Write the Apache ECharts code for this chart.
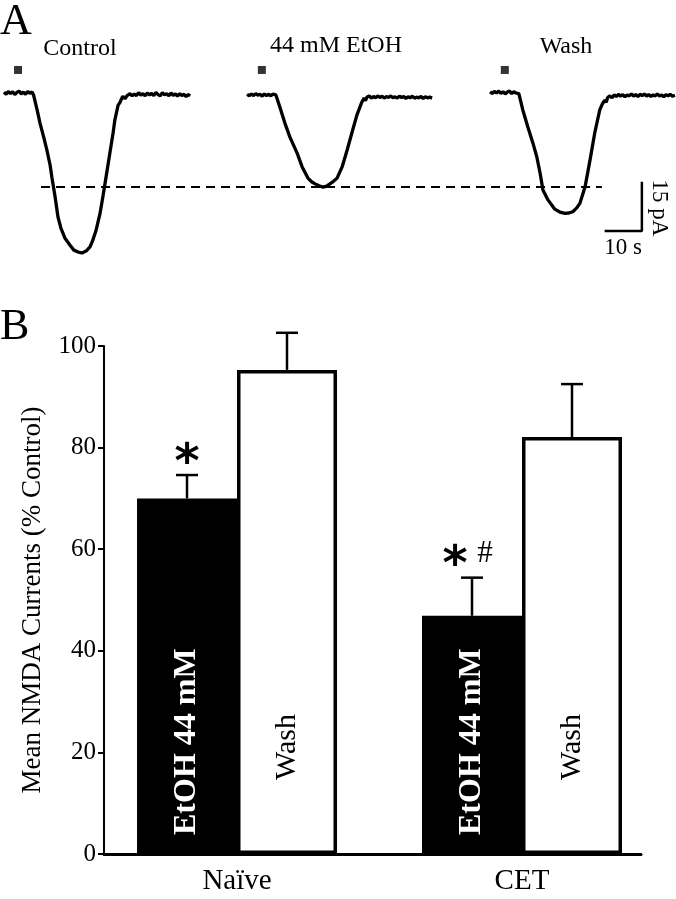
<!DOCTYPE html>
<html>
<head>
<meta charset="utf-8">
<script src="https://cdn.jsdelivr.net/npm/echarts@6/dist/echarts.min.js"></script>
<style>html,body{margin:0;padding:0;background:#fff;}#c{width:676px;height:899px;}</style>
</head>
<body>
<div id="c"></div>
<script>
// ---------- Panel A: current traces (time in s, current in pA) ----------
const traceNames = ['Control', '44 mM EtOH', 'Wash'];
const controlTrace = [[0,0.3],[0.6,-0.4],[1.2,0.5],[1.8,-0.2],[2.4,0.4],[3.0,-0.5],[3.6,0.2],[4.2,0.6],[4.8,-0.3],[5.4,0.3],[6.0,-0.4],[6.6,0.5],[7.2,-0.1],[7.8,0.3],[8.2,-0.6],
[9.2,-5.3],[10.0,-9.4],[11.1,-14.1],[11.9,-17.8],[12.8,-22.5],[13.3,-26.3],[14.2,-32.5],[15.0,-38.8],[15.8,-42.2],[16.9,-45.3],[18.3,-47.5],[19.4,-49.1],[20.6,-49.7],[21.7,-50.0],[22.8,-49.4],[23.9,-48.1],[24.7,-45.9],[25.6,-42.8],[26.7,-37.5],[27.5,-32.2],[28.3,-26.6],[29.4,-18.8],[30.3,-12.5],[30.8,-8.4],[31.7,-3.8],[32.2,-3.0],[32.5,-2.2],[33.0,-1.0],[33.6,-1.8],[34.2,-0.8],[35.0,-0.2],[35.6,-0.9],[36.2,-0.3],[36.8,-0.8],[37.4,0.1],[38.0,-0.7],[38.6,-0.2],[39.2,-0.9],[39.8,0.0],[40.4,-0.6],[41.0,-0.1],[41.6,-0.8],[42.2,0.2],[42.8,-0.5],[43.4,-0.9],[44.0,0.1],[44.6,-0.6],[45.2,-0.2],[45.8,-0.9],[46.4,0.0],[47.0,-0.7],[47.6,-0.3],[48.2,-1.0],[48.8,-0.2],[49.4,-0.8],[50.0,-0.4],[50.6,-1.1],[51.2,-0.5],[51.7,-0.9]];
const etohTrace = [[0.3,-0.4],[0.9,-0.9],[1.5,-0.3],[2.1,-0.8],[2.7,-0.2],[3.3,-0.7],[3.9,-0.4],[4.5,-1.0],[5.1,-0.3],[5.7,-0.8],[6.3,-0.4],[6.9,-0.9],[7.5,-0.3],[8.0,-0.7],[8.3,-0.6],
[9.4,-4.4],[10.8,-9.4],[12.2,-13.8],[14.2,-18.8],[15.6,-23.1],[17.2,-26.6],[18.3,-27.8],[19.2,-28.4],[20.3,-29.0],[21.4,-29.4],[22.4,-29.1],[23.3,-28.4],[24.3,-27.6],[25.3,-26.6],[26.7,-23.1],[28.1,-17.8],[29.4,-12.5],[30.8,-6.9],[32.2,-2.8],[32.8,-1.6],[33.2,-2.4],[33.6,-1.3],[34.2,-0.9],[34.8,-1.6],[35.4,-1.1],[36.0,-1.5],[36.6,-0.9],[37.2,-1.4],[37.8,-1.0],[38.4,-1.6],[39.0,-1.1],[39.6,-1.4],[40.2,-0.9],[40.8,-1.5],[41.4,-1.2],[42.0,-1.6],[42.6,-1.0],[43.2,-1.4],[43.8,-1.1],[44.4,-1.7],[45.0,-1.2],[45.6,-1.5],[46.2,-1.0],[46.8,-1.6],[47.4,-1.3],[48.0,-1.5],[48.6,-1.1],[49.2,-1.7],[49.8,-1.2],[50.4,-1.5],[51.0,-1.3],[51.7,-1.6]];
const washTrace = [[0.3,0.4],[0.9,-0.2],[1.5,0.5],[2.1,0.0],[2.7,0.6],[3.3,-0.1],[3.9,0.4],[4.5,-0.3],[5.1,0.3],[5.7,0.6],[6.3,-0.2],[6.9,0.4],[7.5,0.0],[8.0,0.3],[8.3,-0.2],
[9.4,-5.3],[10.8,-10.6],[12.2,-15.6],[13.3,-20.0],[14.2,-25.0],[15.0,-30.3],[16.4,-33.4],[18.3,-36.3],[19.7,-37.2],[21.1,-37.6],[22.2,-37.5],[23.3,-37.1],[24.4,-35.9],[25.3,-34.4],[26.7,-29.4],[28.1,-20.9],[29.4,-12.5],[30.8,-5.3],[31.5,-3.5],[32.2,-2.2],[32.6,-2.9],[33.0,-1.4],[33.6,-0.9],[34.2,-1.5],[34.8,-0.6],[35.4,-1.1],[36.0,-0.4],[36.6,-1.0],[37.2,-0.5],[37.8,-1.2],[38.4,-0.6],[39.0,-0.9],[39.6,-0.3],[40.2,-1.0],[40.8,-0.5],[41.4,-1.1],[42.0,-0.4],[42.6,-0.8],[43.2,-0.3],[43.8,-1.0],[44.4,-0.5],[45.0,-1.1],[45.6,-0.6],[46.2,-0.9],[46.8,-0.3],[47.4,-1.0],[48.0,-0.6],[48.6,-1.2],[49.2,-0.5],[49.8,-0.9],[50.4,-0.4],[51.0,-1.0],[51.7,-0.7]];
const stimTimes = [3.9, 4.4, 4.4];   // s, NMDA application marker
const scaleBarSec = 10;
const scaleBarPA = 15;

// ---------- Panel B: mean NMDA currents (% control) ----------
const groups = ['Naïve', 'CET'];
const conditions = ['EtOH 44 mM', 'Wash'];
const etohMean = [70.0, 46.9];
const etohSem = [4.6, 7.5];
const washMean = [95.3, 82.1];
const washSem = [7.3, 10.4];
const etohSig = ['*', '*#'];
const washSig = ['', ''];
const yTicks = [0, 20, 40, 60, 80, 100];

const serif = "'Liberation Serif','Times New Roman',serif";
const traces = [controlTrace, etohTrace, washTrace];
const etohPeak = Math.min(...etohTrace.map(p => p[1]));

const chart = echarts.init(document.getElementById('c'), null, {renderer: 'canvas'});

const BAR_W = 100;
function errRender(side) {
  return function (params, api) {
    const c = api.value(0), m = api.value(1), e = api.value(2);
    const base = api.coord([c, m]);
    const top = api.coord([c, m + e]);
    const cx = base[0] + side * BAR_W / 2;
    const sig = (side < 0 ? etohSig : washSig)[params.dataIndex] || '';
    const children = [
      {type: 'line', shape: {x1: cx, y1: base[1], x2: cx, y2: top[1]}, style: {stroke: '#000', lineWidth: 2.5}},
      {type: 'line', shape: {x1: cx - 11, y1: top[1], x2: cx + 11, y2: top[1]}, style: {stroke: '#000', lineWidth: 2.5}}
    ];
    const hasHash = sig.indexOf('#') >= 0;
    if (sig.indexOf('*') >= 0) {
      children.push({type: 'text', x: cx + (hasHash ? -17 : 0), y: top[1] - 11,
        style: {text: '*', font: 'bold 48px "DejaVu Sans"', fill: '#000', align: 'center', verticalAlign: 'middle'}});
    }
    if (hasHash) {
      children.push({type: 'text', x: cx + 13, y: top[1] - 24,
        style: {text: '#', font: '31px ' + serif, fill: '#000', align: 'center', verticalAlign: 'middle'}});
    }
    return {type: 'group', children};
  };
}

const traceGridLeft = [4, 246, 489];
const grids = traceGridLeft.map(l => ({left: l, top: 61, width: 187.2, height: 224}));
grids.push({left: 0, top: 61, width: 676, height: 224});
grids.push({left: 94.5, top: 346, width: 570, height: 508});
grids.push({left: 104, top: 346, width: 537, height: 508});

const xAxes = [0, 1, 2].map(i => ({type: 'value', gridIndex: i, min: 0, max: 52, show: false}));
xAxes.push({type: 'value', gridIndex: 3, min: 0, max: 676 / 3.6, show: false});
xAxes.push({type: 'category', gridIndex: 4, data: groups, axisLine: {show: false}, axisTick: {show: false},
  axisLabel: {fontFamily: serif, fontSize: 29, color: '#000', margin: 13}});
xAxes.push({type: 'value', gridIndex: 5, min: 0, max: 1, axisLine: {show: true, onZero: false, lineStyle: {color: '#000', width: 3}},
  axisTick: {show: false}, axisLabel: {show: false}, splitLine: {show: false}});

const yAxes = [0, 1, 2, 3].map(i => ({type: 'value', gridIndex: i, min: -60, max: 10, show: false}));
yAxes.push({type: 'value', gridIndex: 4, min: 0, max: 100, show: false});
yAxes.push({type: 'value', gridIndex: 5, min: yTicks[0], max: yTicks[yTicks.length - 1], interval: 20,
  name: 'Mean NMDA Currents (% Control)', nameLocation: 'middle', nameGap: 58,
  nameTextStyle: {fontFamily: serif, fontSize: 27, color: '#000'},
  axisLine: {show: true, onZero: false, lineStyle: {color: '#000', width: 2}},
  axisTick: {show: true, length: 6, lineStyle: {color: '#000', width: 2}},
  axisLabel: {fontFamily: serif, fontSize: 25, color: '#000', margin: 8},
  splitLine: {show: false}});

const series = [];
traces.forEach((tr, i) => {
  series.push({type: 'line', name: traceNames[i], xAxisIndex: i, yAxisIndex: i, data: tr, showSymbol: false,
    symbol: 'none', lineStyle: {color: '#000', width: 3.3}, silent: true, z: 3});
  series.push({type: 'scatter', xAxisIndex: i, yAxisIndex: i, data: [[stimTimes[i], 7.2]], symbol: 'rect',
    symbolSize: 8, itemStyle: {color: '#000'}, silent: true});
});
// dashed reference line at EtOH peak
series.push({type: 'line', xAxisIndex: 3, yAxisIndex: 3, data: [[11.4, etohPeak], [167.2, etohPeak]], showSymbol: false,
  symbol: 'none', lineStyle: {color: '#000', width: 2, type: [9, 6]}, silent: true, z: 2});
// scale bar
const corner = [178.3, -43.1];
series.push({type: 'line', xAxisIndex: 3, yAxisIndex: 3,
  data: [[corner[0] - scaleBarSec, corner[1]], corner, [corner[0], corner[1] + scaleBarPA]],
  showSymbol: false, symbol: 'none', lineStyle: {color: '#000', width: 2.5, cap: 'square'}, silent: true});

// bars
series.push({type: 'bar', name: conditions[0], xAxisIndex: 4, yAxisIndex: 4, data: etohMean, barWidth: BAR_W, barGap: '0%',
  itemStyle: {color: '#000'}, silent: true, z: 2,
  label: {show: true, formatter: '{a}', position: 'insideBottom', distance: 19, rotate: 90, align: 'left', verticalAlign: 'middle',
    color: '#fff', fontFamily: serif, fontWeight: 'bold', fontSize: 32}});
series.push({type: 'bar', name: conditions[1], xAxisIndex: 4, yAxisIndex: 4, data: washMean, barWidth: BAR_W, barGap: '0%',
  itemStyle: {color: '#fff', borderColor: '#000', borderWidth: 3.5}, silent: true, z: 2,
  label: {show: true, formatter: '{a}', position: 'insideBottom', distance: 74, rotate: 90, align: 'left', verticalAlign: 'middle',
    color: '#000', fontFamily: serif, fontSize: 30}});
series.push({type: 'custom', xAxisIndex: 4, yAxisIndex: 4, renderItem: errRender(-1), silent: true, z: 5,
  data: etohMean.map((m, i) => [i, m, etohSem[i]])});
series.push({type: 'custom', xAxisIndex: 4, yAxisIndex: 4, renderItem: errRender(1), silent: true, z: 5,
  data: washMean.map((m, i) => [i, m, washSem[i]])});

const traceLabelX = [80, 336, 566];
const traceLabelY = [49, 46, 47];
const graphics = [
  {type: 'text', x: 0, y: 0, style: {text: 'A', font: '44px ' + serif, fill: '#000'}},
  {type: 'text', x: 0, y: 305, style: {text: 'B', font: '44px ' + serif, fill: '#000'}},
  {type: 'text', x: 659, y: 208, rotation: -Math.PI / 2,
    style: {text: scaleBarPA + ' pA', font: '23px ' + serif, fill: '#000', align: 'center', verticalAlign: 'middle'}},
  {type: 'text', x: 623, y: 248,
    style: {text: scaleBarSec + ' s', font: '23px ' + serif, fill: '#000', align: 'center', verticalAlign: 'middle'}}
];
traceNames.forEach((n, i) => graphics.push({type: 'text', x: traceLabelX[i], y: traceLabelY[i],
  style: {text: n, font: '24px ' + serif, fill: '#000', align: 'center', verticalAlign: 'middle'}}));

chart.setOption({
  animation: false,
  backgroundColor: '#fff',
  grid: grids,
  xAxis: xAxes,
  yAxis: yAxes,
  series: series,
  graphic: graphics
});
</script>
</body>
</html>
